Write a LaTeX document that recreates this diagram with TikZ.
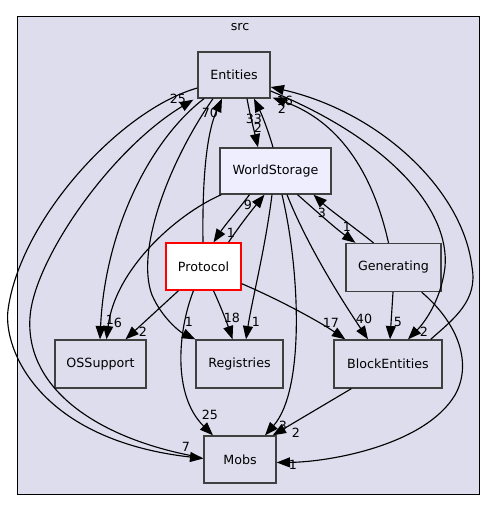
\documentclass[tikz,border=0pt]{standalone}
\usepackage{fontspec}
\setmainfont{DejaVu Sans}
\usetikzlibrary{arrows.meta,calc}
\definecolor{clusterfill}{HTML}{DDDDEE}
\definecolor{wsfill}{HTML}{EEEEFF}
\definecolor{nodeborder}{HTML}{404040}
\tikzset{
  box/.style={draw=nodeborder, line width=1pt, fill=clusterfill, inner sep=0pt, font=\fontsize{9.5}{11}\selectfont},
  wsbox/.style={box, fill=wsfill},
  protbox/.style={box, draw=red, fill=white},
  lbl/.style={inner sep=0pt, font=\fontsize{9.5}{10}\selectfont},
  dep/.style={draw=black, line width=0.85pt, -{Triangle[length=10pt,width=7.5pt]}},
}
\begin{document}
\begin{tikzpicture}[x=0.75pt,y=-0.75pt]
\useasboundingbox (0,0) rectangle (495,511);
\draw[draw=black, line width=0.75pt, fill=clusterfill] (17,16) rectangle (479,494);
\node[lbl] (src) at (240,27) {src};

\node[box, minimum width=54pt, minimum height=34.5pt] (entities) at (234,75) {Entities};
\node[wsbox, minimum width=83.25pt, minimum height=34.5pt] (ws) at (275.5,171) {WorldStorage};
\node[protbox, minimum width=56.25pt, minimum height=35.25pt] (prot) at (203.5,266.5) {Protocol};
\node[box, minimum width=71.25pt, minimum height=36pt] (gen) at (393.5,267.5) {Generating};
\node[box, minimum width=68.25pt, minimum height=36pt] (os) at (100.5,364) {OSSupport};
\node[box, minimum width=65.25pt, minimum height=36pt] (reg) at (239.5,364) {Registries};
\node[box, minimum width=81pt, minimum height=36pt] (be) at (388,364) {BlockEntities};
\node[box, minimum width=54pt, minimum height=35.25pt] (mobs) at (240,459.5) {Mobs};

% Entities <-> WorldStorage
\draw[dep] ($(entities.south)+(13,0)$) .. controls (250,115) and (254,130) .. ($(ws.north)+(-17.5,0)$);
\draw[dep] ($(ws.north)+(-2.5,0)$) .. controls (268,130) and (262,115) .. ($(entities.south)+(20,0)$);
% to OSSupport
\draw[dep] ($(entities.south)+(-30,0)$) .. controls (150,140) and (105,230) .. ($(os.north)+(-0.5,0)$);
\draw[dep] ($(ws.south west)+(2,0)$) .. controls (175,215) and (115,270) .. ($(os.north)+(6,0)$);
\draw[dep] ($(prot.south)+(-25,0)$) -- ($(os.north)+(25,0)$);
% Entities <-> Mobs along the left
\draw[dep] ($(entities.west)+(0,13)$) .. controls (120,110) and (20,220) .. (8,310) .. controls (3,350) and (40,440) .. ($(mobs.west)+(0,-1)$);
\draw[dep] ($(mobs.west)+(-2,-2)$) .. controls (100,440) and (25,390) .. (30,317) .. controls (34,260) and (110,150) .. ($(entities.south west)+(-4,1)$);
% Protocol -> Entities
\draw[dep] ($(prot.north)+(-0.5,0)$) .. controls (202,170) and (208,130) .. ($(entities.south)+(-12,0)$);
% Entities -> Registries
\draw[dep] ($(entities.south)+(-21,0)$) .. controls (170,160) and (135,250) .. (152,295) .. controls (162,318) and (180,332) .. (reg.north west);
% Protocol <-> WorldStorage
\draw[dep] ($(prot.north)+(25,0)$) .. controls (240,225) and (252,210) .. ($(ws.south)+(-11,0)$);
\draw[dep] ($(ws.south)+(-26,0)$) .. controls (238,210) and (225,225) .. ($(prot.north)+(10,0)$);
% WorldStorage -> others
\draw[dep] ($(ws.south)+(-3.5,0)$) .. controls (265,250) and (252,300) .. ($(reg.north)+(6.5,0)$);
\draw[dep] ($(ws.south)+(6.5,0)$) .. controls (300,270) and (305,390) .. ($(mobs.north)+(25,0)$);
\draw[dep] ($(ws.south)+(11.5,0)$) .. controls (305,240) and (335,290) .. ($(be.north)+(-20,0)$);
\draw[dep] ($(ws.south)+(22,0)$) .. controls (315,210) and (335,228) .. ($(gen.north)+(-38,0)$);
% Generating
\draw[dep] ($(gen.north)+(-20,0)$) .. controls (355,228) and (330,210) .. ($(ws.south)+(38,0)$);
\draw[dep] ($(gen.south)+(-0.5,0)$) -- ($(be.north)+(2,0)$);
\draw[dep] ($(gen.north)+(-5,0)$) .. controls (370,160) and (330,118) .. ($(entities.south east)+(2,-1)$);
\draw[dep] ($(gen.south east)+(-20,0)$) .. controls (460,325) and (472,365) .. (455,395) .. controls (425,445) and (330,462) .. ($(mobs.east)+(0,3)$);
% Entities <-> BlockEntities along the right
\draw[dep] ($(entities.east)+(0,16)$) .. controls (390,140) and (450,210) .. (445,267) .. controls (441,300) and (425,322) .. ($(be.north)+(20,0)$);
\draw[dep] ($(be.north east)+(-12,0)$) .. controls (455,318) and (478,300) .. (472,267) .. controls (463,190) and (380,112) .. ($(entities.east)+(0,12)$);
% others
\draw[dep] ($(be.south west)+(18,0)$) -- ($(mobs.north east)+(-4,0)$);
\draw[dep] ($(prot.south)+(10,0)$) .. controls (220,305) and (226,320) .. ($(reg.north)+(-7,0)$);
\draw[dep] ($(prot.south east)+(0,-7)$) .. controls (280,300) and (320,322) .. ($(be.north west)+(12,0)$);
\draw[dep] ($(prot.south)+(-10,0)$) .. controls (178,330) and (172,395) .. ($(mobs.north)+(-27,0)$);

% labels
\node[lbl] (l1) at (254,119) {33};
\node[lbl] (l2) at (258,128) {2};
\node[lbl] (l3) at (110,320) {1};
\node[lbl] (l4) at (118,323) {6};
\node[lbl] (l5) at (143,332) {2};
\node[lbl] (l6) at (186,447) {7};
\node[lbl] (l7) at (178,99) {25};
\node[lbl] (l8) at (210,113) {70};
\node[lbl] (l9) at (189,322) {1};
\node[lbl] (l10) at (248,205) {9};
\node[lbl] (l11) at (231,233) {1};
\node[lbl] (l12) at (256,322) {1};
\node[lbl] (l13) at (283,426) {3};
\node[lbl] (l14) at (364,319) {40};
\node[lbl] (l15) at (347,227) {1};
\node[lbl] (l16) at (322,213) {3};
\node[lbl] (l17) at (398,322) {5};
\node[lbl] (l18) at (282,109) {2};
\node[lbl] (l19) at (424,332) {2};
\node[lbl] (l20) at (285,101) {16};
\node[lbl] (l21) at (293,465) {1};
\node[lbl] (l22) at (296,433) {2};
\node[lbl] (l23) at (232,318) {18};
\node[lbl] (l24) at (331,323) {17};
\node[lbl] (l25) at (210,415) {25};
\end{tikzpicture}
\end{document}
